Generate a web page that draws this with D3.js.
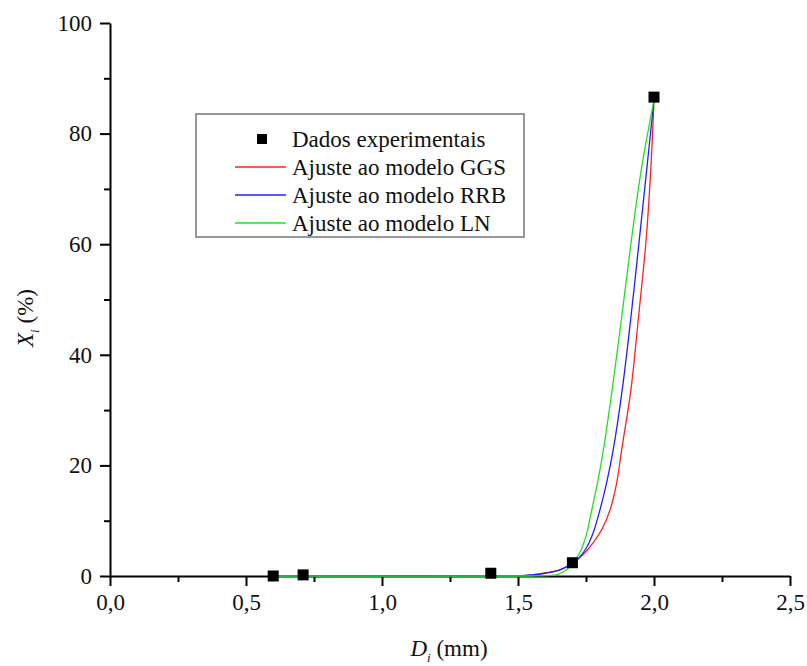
<!DOCTYPE html>
<html>
<head>
<meta charset="utf-8">
<script src="https://cdnjs.cloudflare.com/ajax/libs/d3/7.8.5/d3.min.js"></script>
<style>
  body { margin: 0; background: #fff; }
  svg text { font-family: "Liberation Serif", "DejaVu Serif", serif; }
</style>
</head>
<body>
<svg id="chart" width="807" height="666"></svg>
<script>
'use strict';

// Experimental points (D_i in mm, X_i in %).
var expD = [0.60, 0.71, 1.40, 1.70, 2.00];
var expX = [0.0, 0.2, 0.5, 2.4, 86.6];

// Fitted curves.
var ggsD = [0.60, 1.45, 1.50, 1.55, 1.60, 1.654, 1.702, 1.740, 1.776, 1.810, 1.838, 1.862, 1.881, 1.915, 1.942, 1.971, 1.988, 2.00];
var ggsX = [0.0, 0.0, 0.05, 0.2, 0.55, 1.1, 2.4, 3.9, 6.0, 8.6, 11.9, 16.6, 22.8, 33.6, 46.3, 60.8, 73.4, 86.1];

var rrbD = [0.60, 1.45, 1.50, 1.55, 1.60, 1.654, 1.702, 1.728, 1.753, 1.777, 1.801, 1.826, 1.850, 1.883, 1.914, 1.946, 1.973, 2.00];
var rrbX = [0.0, 0.0, 0.04, 0.18, 0.5, 1.1, 2.4, 3.5, 5.2, 7.9, 11.9, 16.9, 22.8, 33.6, 46.3, 60.8, 73.4, 86.1];

var lnD = [0.60, 1.55, 1.60, 1.647, 1.675, 1.702, 1.728, 1.750, 1.771, 1.793, 1.814, 1.846, 1.880, 1.917, 1.953, 2.00];
var lnX = [0.0, 0.0, 0.05, 0.3, 1.0, 2.4, 4.3, 7.2, 11.9, 17.0, 22.8, 33.6, 46.3, 60.8, 73.4, 86.1];

var xTicks = [0, 0.5, 1.0, 1.5, 2.0, 2.5];
var xMinor = [0.25, 0.75, 1.25, 1.75, 2.25];
var yTicks = [0, 20, 40, 60, 80, 100];
var yMinor = [10, 30, 50, 70, 90];

var legendLabels = ['Dados experimentais', 'Ajuste ao modelo GGS',
  'Ajuste ao modelo RRB', 'Ajuste ao modelo LN'];
var seriesColors = ['#ff2020', '#2020ff', '#20e020'];

(function() {
  var svg = d3.select('#chart'),
      serif = '"Liberation Serif", "DejaVu Serif", serif',
      left = 110, right = 790, top = 23, bottom = 576;

  var x = d3.scaleLinear().domain([0, 2.5]).range([left, right]);
  var y = d3.scaleLinear().domain([0, 100]).range([bottom, top]);

  var fmt = function(d) { return d3.format('.1f')(d).replace('.', ','); };

  // Minor ticks first so the major axis draws over them.
  svg.append('g')
    .attr('transform', 'translate(0,' + bottom + ')')
    .call(d3.axisBottom(x).tickValues(xMinor).tickSize(6).tickFormat(''))
    .call(function(g) { g.select('.domain').remove(); });
  svg.append('g')
    .attr('transform', 'translate(' + left + ',0)')
    .call(d3.axisLeft(y).tickValues(yMinor).tickSize(6).tickFormat(''))
    .call(function(g) { g.select('.domain').remove(); });

  var xAxis = svg.append('g')
    .attr('transform', 'translate(0,' + bottom + ')')
    .call(d3.axisBottom(x).tickValues(xTicks).tickSize(10).tickSizeOuter(0)
      .tickPadding(8).tickFormat(fmt));
  var yAxis = svg.append('g')
    .attr('transform', 'translate(' + left + ',0)')
    .call(d3.axisLeft(y).tickValues(yTicks).tickSize(10).tickSizeOuter(0)
      .tickPadding(8).tickFormat(d3.format('d')));

  svg.selectAll('g').attr('font-family', serif);
  [xAxis, yAxis].forEach(function(g) {
    g.selectAll('path, line').attr('stroke', '#000').attr('stroke-width', 2);
    g.selectAll('text').attr('fill', '#111')
      .attr('font-family', serif).attr('font-size', 23);
  });
  svg.selectAll('g line').attr('stroke', '#000').attr('stroke-width', 2);

  // Fitted curves.
  var line = d3.line()
    .x(function(d) { return x(d[0]); })
    .y(function(d) { return y(d[1]); })
    .curve(d3.curveCatmullRom.alpha(0.5));
  var curves = [d3.zip(ggsD, ggsX), d3.zip(rrbD, rrbX), d3.zip(lnD, lnX)];
  svg.append('g').selectAll('path')
    .data(curves)
    .enter().append('path')
    .attr('d', line)
    .attr('fill', 'none')
    .attr('stroke', function(d, i) { return seriesColors[i]; })
    .attr('stroke-width', 1.3);

  // Experimental markers.
  var sq = 11;
  svg.append('g').selectAll('rect')
    .data(d3.zip(expD, expX))
    .enter().append('rect')
    .attr('x', function(d) { return x(d[0]) - sq / 2; })
    .attr('y', function(d) { return y(d[1]) - sq / 2; })
    .attr('width', sq)
    .attr('height', sq)
    .attr('fill', '#000');

  // Legend.
  var legend = svg.append('g');
  legend.append('rect')
    .attr('x', 196).attr('y', 114).attr('width', 328).attr('height', 123)
    .attr('fill', '#fff').attr('stroke', '#777').attr('stroke-width', 1.5);
  var rows = legend.selectAll('g.row')
    .data(legendLabels)
    .enter().append('g')
    .attr('class', 'row')
    .attr('transform', function(d, i) { return 'translate(0,' + (139 + i * 28) + ')'; });
  rows.append('text')
    .attr('x', 292).attr('y', 8)
    .attr('font-family', serif)
    .attr('font-size', 23)
    .attr('fill', '#111')
    .text(function(d) { return d; });
  rows.filter(function(d, i) { return i === 0; })
    .append('rect')
    .attr('x', 257).attr('y', -5).attr('width', 10).attr('height', 10)
    .attr('fill', '#000');
  rows.filter(function(d, i) { return i > 0; })
    .append('line')
    .attr('x1', 235).attr('x2', 286)
    .attr('stroke', function(d, i) { return seriesColors[i]; })
    .attr('stroke-width', 1.3);

  // Axis titles.
  var xt = svg.append('text')
    .attr('x', 449).attr('y', 656)
    .attr('text-anchor', 'middle')
    .attr('font-family', serif)
    .attr('font-size', 23)
    .attr('fill', '#111');
  xt.append('tspan').attr('font-style', 'italic').text('D');
  xt.append('tspan').attr('dy', 6).attr('font-size', 13)
    .attr('font-style', 'italic').text('i');
  xt.append('tspan').attr('dy', -6).text(' (mm)');

  var yt = svg.append('text')
    .attr('transform', 'translate(33,318) rotate(-90)')
    .attr('text-anchor', 'middle')
    .attr('font-family', serif)
    .attr('font-size', 23)
    .attr('fill', '#111');
  yt.append('tspan').attr('font-style', 'italic').text('X');
  yt.append('tspan').attr('dy', 6).attr('font-size', 13)
    .attr('font-style', 'italic').text('i');
  yt.append('tspan').attr('dy', -6).text(' (%)');
})();
</script>
</body>
</html>
